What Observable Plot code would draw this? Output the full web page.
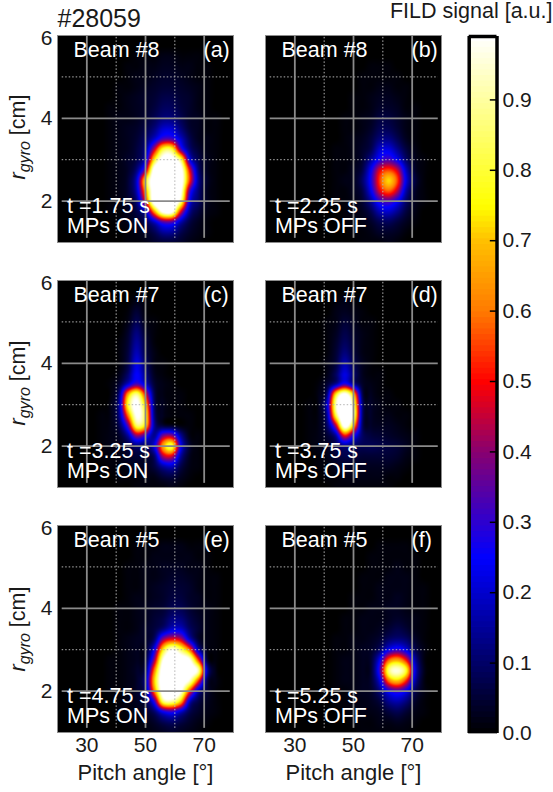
<!DOCTYPE html>
<html>
<head>
<meta charset="utf-8">
<script src="https://cdn.jsdelivr.net/npm/d3@7"></script>
<script src="https://cdn.jsdelivr.net/npm/@observablehq/plot@0.6"></script>
<style>
html,body{margin:0;padding:0;background:#fff}
#chart{position:relative;width:553px;height:792px;overflow:hidden}
#chart svg{position:absolute;left:0;top:0;background:transparent;overflow:visible}
</style>
</head>
<body>
<div id="chart"></div>
<script>
// Grid positions of the estimated FILD signal
const pitchCols = [35,38,41,44,47,50,53,56,59,62,65,68,71,74,77];
const rgyroRows = [5.5,5.25,5,4.75,4.5,4.25,4,3.75,3.5,3.25,3,2.75,2.5,2.25,2,1.75,1.5,1.25,1];

// Signal in percent, one row per rgyroRows entry (values above 100 saturate the colour map)
const panelA = [
[0,0,0,0,1,1,1,2,2,1,1,1,0,0,0],
[0,0,0,1,1,2,2,3,3,2,2,1,1,0,0],
[0,0,0,1,2,2,3,4,4,3,2,1,1,0,0],
[0,0,1,1,2,3,4,5,5,4,3,2,1,0,0],
[0,0,1,2,3,4,5,7,7,5,4,2,1,0,0],
[0,1,1,2,3,4,6,9,9,6,4,2,1,0,0],
[0,1,2,2,3,5,8,12,12,8,4,3,1,1,0],
[0,1,2,3,4,7,12,20,20,12,5,3,1,1,0],
[0,1,2,3,5,10,20,33,33,20,8,3,2,1,0],
[0,1,2,3,6,14,45,80,80,35,12,5,2,1,0],
[0,1,2,4,7,20,75,105,105,85,25,8,3,1,0],
[0,1,2,4,12,40,105,118,118,105,50,12,3,1,0],
[0,1,2,5,20,75,110,120,120,108,55,15,4,1,0],
[0,1,2,5,18,65,110,120,120,102,35,12,3,1,0],
[0,1,2,4,12,50,108,120,116,90,25,10,3,1,0],
[0,1,1,3,7,20,65,102,102,50,15,6,2,1,0],
[0,0,1,2,4,8,20,35,35,18,7,3,1,0,0],
[0,0,0,1,2,4,8,15,15,8,4,2,1,0,0],
[0,0,0,1,1,2,4,5,5,4,2,1,0,0,0]];
const panelB = [
[0,0,0,0,0,0,0,0,0,0,0,0,0,0,0],
[0,0,0,0,0,0,0,1,1,1,0,0,0,0,0],
[0,0,0,0,0,0,1,1,1,1,1,0,0,0,0],
[0,0,0,0,0,0,1,1,2,2,1,1,0,0,0],
[0,0,0,0,0,1,1,2,3,3,2,1,0,0,0],
[0,0,0,0,0,1,1,2,4,4,3,1,1,0,0],
[0,0,0,0,1,1,2,3,6,6,4,2,1,0,0],
[0,0,0,0,1,1,2,4,8,8,5,2,1,0,0],
[0,0,0,0,1,2,3,6,12,13,8,3,1,0,0],
[0,0,0,1,1,2,4,8,20,22,14,6,2,0,0],
[0,0,0,1,1,2,5,15,28,33,24,10,3,1,0],
[0,0,0,1,1,3,7,25,48,55,45,18,4,1,0],
[0,0,0,1,2,3,10,28,55,72,55,22,6,1,0],
[0,0,0,1,1,3,7,24,48,58,44,16,4,1,0],
[0,0,0,1,1,2,5,15,30,34,25,10,3,1,0],
[0,0,0,0,1,2,3,8,18,20,14,6,2,0,0],
[0,0,0,0,1,1,2,4,8,9,6,3,1,0,0],
[0,0,0,0,0,1,1,2,4,4,3,1,0,0,0],
[0,0,0,0,0,0,1,1,1,2,1,0,0,0,0]];
const panelC = [
[0,0,0,0,2,1,0,0,0,0,0,0,0,0,0],
[0,0,0,1,5,1,0,0,0,0,0,0,0,0,0],
[0,0,0,2,8,2,1,0,0,0,0,0,0,0,0],
[0,0,0,4,12,4,1,0,0,0,0,0,0,0,0],
[0,0,1,5,15,6,1,0,0,0,0,0,0,0,0],
[0,0,1,6,18,7,2,0,0,0,0,0,0,0,0],
[0,0,1,7,22,10,2,1,0,0,0,0,0,0,0],
[0,0,2,10,25,13,3,1,0,0,0,0,0,0,0],
[0,1,5,20,33,20,5,2,1,0,0,0,0,0,0],
[0,1,12,65,88,50,8,2,1,1,0,0,0,0,0],
[0,2,15,78,102,70,10,3,1,1,0,0,0,0,0],
[1,2,13,60,100,78,12,3,1,1,1,0,0,0,0],
[1,2,8,35,85,72,15,5,3,1,1,0,0,0,0],
[1,2,4,15,40,30,14,38,40,15,2,1,0,0,0],
[1,2,3,6,12,10,22,65,80,25,5,1,0,0,0],
[1,1,2,4,5,5,10,42,45,15,3,1,0,0,0],
[0,1,1,2,3,3,6,15,18,7,2,1,0,0,0],
[0,0,1,1,1,2,2,5,6,3,1,0,0,0,0],
[0,0,0,0,1,1,1,1,2,1,0,0,0,0,0]];
const panelD = [
[0,0,0,1,2,1,0,0,0,0,0,0,0,0,0],
[0,0,0,2,3,2,1,0,0,0,0,0,0,0,0],
[0,0,1,2,5,3,1,1,0,0,0,0,0,0,0],
[0,0,1,3,7,4,2,1,0,0,0,0,0,0,0],
[0,0,1,4,9,5,2,1,0,0,0,0,0,0,0],
[0,0,1,5,12,6,2,1,0,0,0,0,0,0,0],
[0,0,2,6,17,8,3,1,0,0,0,0,0,0,0],
[0,0,2,9,22,11,3,1,1,0,0,0,0,0,0],
[0,1,5,15,30,15,4,2,1,0,0,0,0,0,0],
[0,2,12,75,102,70,8,3,1,1,0,0,0,0,0],
[1,2,20,92,118,88,12,4,2,1,1,0,0,0,0],
[1,2,15,82,118,92,12,4,2,2,1,1,0,0,0],
[1,2,10,45,105,70,10,4,3,3,2,1,0,0,0],
[1,2,5,15,50,28,10,6,5,4,3,2,1,0,0],
[1,2,3,8,14,10,8,8,7,6,5,3,1,0,0],
[0,1,2,5,7,6,5,5,5,5,4,2,1,0,0],
[0,1,1,3,4,3,3,3,3,3,2,1,0,0,0],
[0,0,1,1,2,2,2,2,2,1,1,0,0,0,0],
[0,0,0,1,1,1,1,1,1,1,0,0,0,0,0]];
const panelE = [
[0,0,0,0,1,1,1,2,2,2,1,1,1,0,0],
[0,0,0,0,1,1,2,2,2,2,2,1,1,0,0],
[0,0,0,1,1,2,2,3,3,3,2,2,1,0,0],
[0,0,0,1,1,2,2,3,4,4,3,2,1,1,0],
[0,0,0,1,1,2,3,4,5,5,4,2,1,1,0],
[0,0,0,1,2,2,3,4,6,6,4,3,1,1,0],
[0,0,1,1,2,3,4,5,8,8,5,3,2,1,0],
[0,0,1,1,2,3,5,7,12,12,7,4,2,1,0],
[0,0,1,1,2,4,6,12,20,20,10,5,2,1,0],
[0,0,1,2,3,4,10,40,50,45,20,5,2,1,0],
[0,0,1,2,3,4,25,75,98,85,60,18,3,1,0],
[0,1,1,2,3,6,40,98,110,108,100,55,6,1,0],
[0,1,1,2,4,10,60,108,118,112,106,92,18,2,0],
[0,1,1,2,4,15,70,110,118,108,95,55,8,2,0],
[0,1,1,2,4,12,60,106,112,100,55,18,5,1,0],
[0,0,1,2,3,7,30,85,90,70,20,7,3,1,0],
[0,0,1,1,2,4,10,25,30,20,8,4,2,1,0],
[0,0,0,1,1,2,4,8,10,7,4,2,1,0,0],
[0,0,0,0,1,1,2,3,4,3,2,1,0,0,0]];
const panelF = [
[0,0,0,0,0,0,0,0,1,1,1,1,0,0,0],
[0,0,0,0,0,0,0,1,1,1,1,1,1,0,0],
[0,0,0,0,0,0,0,1,1,1,2,1,1,0,0],
[0,0,0,0,0,0,1,1,1,2,2,2,1,0,0],
[0,0,0,0,0,0,1,1,2,2,2,2,1,1,0],
[0,0,0,0,0,1,1,1,2,2,3,2,1,1,0],
[0,0,0,0,0,1,1,2,2,3,3,2,1,1,0],
[0,0,0,0,1,1,2,2,2,3,4,3,2,1,0],
[0,0,0,0,1,1,2,2,3,5,7,5,2,1,0],
[0,0,0,1,1,2,2,3,5,10,12,10,4,1,0],
[0,0,0,1,1,2,3,4,10,24,30,22,8,2,0],
[0,0,0,1,2,2,3,5,24,58,66,50,16,2,0],
[0,0,0,1,2,2,3,5,32,85,96,78,22,3,0],
[0,0,0,1,2,2,3,5,22,60,70,52,16,2,0],
[0,0,0,1,1,2,3,4,12,26,32,24,8,2,0],
[0,0,0,1,1,2,2,3,6,14,17,12,4,1,0],
[0,0,0,0,1,1,2,2,3,6,8,5,2,1,0],
[0,0,0,0,0,1,1,1,2,2,3,2,1,0,0],
[0,0,0,0,0,0,1,1,1,1,1,1,0,0,0]];

// Panel annotations
const panelKeys   = ["a","b","c","d","e","f"];
const panelGrids  = [panelA,panelB,panelC,panelD,panelE,panelF];
const panelCols   = ["left","right","left","right","left","right"];
const panelRows   = ["top","top","middle","middle","bottom","bottom"];
const beamLabels  = ["Beam #8","Beam #8","Beam #7","Beam #7","Beam #5","Beam #5"];
const timeLabels  = ["t =1.75 s","t =2.25 s","t =3.25 s","t =3.75 s","t =4.75 s","t =5.25 s"];
const stateLabels = ["MPs ON","MPs OFF","MPs ON","MPs OFF","MPs ON","MPs OFF"];

// Colour map
const colorStops  = [0,0.25,0.4,0.5,0.6,0.7,0.75,0.99];
const colorValues = ["#000000","#0000ff","#880070","#ff0000","#ff7a00","#ffc000","#ffff00","#ffffff"];
const barTicks = [0.1,0.2,0.3,0.4,0.5,0.6,0.7,0.8,0.9];
const barLabels = [0,0.1,0.2,0.3,0.4,0.5,0.6,0.7,0.8,0.9];
const FONT = "'Liberation Sans', Arial, sans-serif";
const INK = "#1a1a1a";

const cells = panelGrids.flatMap((grid,p) =>
  grid.flatMap((row,j) => row.map((v,i) => ({
    fx: panelCols[p], fy: panelRows[p],
    x: pitchCols[i], y: rgyroRows[j], v: v/100
  }))));
const panels = panelKeys.map((k,p) => ({
  fx: panelCols[p], fy: panelRows[p], tag:`(${k})`,
  beam: beamLabels[p], time: timeLabels[p], state: stateLabels[p]
}));

// Catmull-Rom resampling of the regular grid into raster pixels
function gridInterpolate(index, w, h, X, Y, V) {
  const nx = pitchCols.length, ny = rgyroRows.length;
  const x0 = X[index[0]], sx = (X[index[nx-1]]-x0)/(nx-1);
  const y0 = Y[index[0]], sy = (Y[index[nx*(ny-1)]]-y0)/(ny-1);
  const at = (i,j) => (i<0||j<0||i>=nx||j>=ny) ? 0 : V[index[j*nx+i]];
  const wt = (t) => [(-t+2*t*t-t*t*t)/2,(2-5*t*t+3*t*t*t)/2,(t+4*t*t-3*t*t*t)/2,(-t*t+t*t*t)/2];
  const out = new Float64Array(w*h);
  for (let py=0; py<h; ++py) {
    const gy=(py+.5-y0)/sy, j0=Math.floor(gy), wy=wt(gy-j0);
    for (let px=0; px<w; ++px) {
      const gx=(px+.5-x0)/sx, i0=Math.floor(gx), wx=wt(gx-i0);
      let s=0;
      for (let b=0;b<4;++b) for (let a=0;a<4;++a) s+=wx[a]*wy[b]*at(i0+a-1,j0+b-1);
      out[py*w+px]=Math.max(0,s);
    }
  }
  return out;
}

const colorScale = {type:"linear",domain:colorStops,range:colorValues,clamp:true};
const gridStyle = {stroke:"#8a8a8a",strokeWidth:1.8};
const dotStyle  = {stroke:"#b4b4b4",strokeWidth:1,strokeDasharray:"1.5,2"};
const white = {fill:"#fff",fontSize:21.5,textAnchor:"start",lineAnchor:"middle",fx:"fx",fy:"fy"};
const lastRow = panels.filter(d=>d.fy==="bottom");

const main = Plot.plot({
  width:553,height:792,marginLeft:57,marginRight:111,marginTop:34,marginBottom:59,
  style:{fontFamily:FONT,color:INK,background:"transparent"},
  x:{domain:[20,80],axis:null},
  y:{domain:[1,6],axis:null},
  fx:{domain:["left","right"],paddingInner:0.153,paddingOuter:0,axis:null,label:null},
  fy:{domain:["top","middle","bottom"],paddingInner:0.155,paddingOuter:0,axis:null,label:null},
  color:colorScale,
  marks:[
    Plot.frame({fill:"black"}),
    Plot.raster(cells,{x:"x",y:"y",fill:"v",fx:"fx",fy:"fy",pixelSize:1,interpolate:gridInterpolate}),
    Plot.ruleY([3,5],{x1:21.6,x2:78.9,...dotStyle}),
    Plot.ruleX([40,60],{y1:1.1,y2:6,...dotStyle}),
    Plot.ruleY([2,4],{x1:21.6,x2:78.9,...gridStyle}),
    Plot.ruleX([30,50,70],{y1:1.1,y2:6,...gridStyle}),
    Plot.frame({stroke:"#8c8c8c",strokeWidth:1}),
    Plot.text(panels,{...white,text:"beam",frameAnchor:"top-left",dx:16,dy:15}),
    Plot.text(panels,{...white,text:"tag",frameAnchor:"top-right",dx:-30,dy:15}),
    Plot.text(panels,{...white,text:"time",frameAnchor:"bottom-left",dx:9.5,dy:-36}),
    Plot.text(panels,{...white,text:"state",frameAnchor:"bottom-left",dx:9.5,dy:-16}),
    Plot.text(lastRow,{fx:"fx",fy:"fy",text:()=>"Pitch angle [°]",frameAnchor:"bottom",lineAnchor:"middle",dy:40,fontSize:22,fill:INK}),
    Plot.text(panels.slice(0,1),{fx:"fx",fy:"fy",text:()=>"#28059",frameAnchor:"top-left",lineAnchor:"middle",dy:-17,fontSize:25,fill:INK,textAnchor:"start"}),
    Plot.axisX({ticks:[30,50,70],tickSize:0,tickPadding:5,fontSize:21,tickFormat:"d",label:null,anchor:"bottom",color:INK}),
    Plot.axisY({ticks:[2,4],tickSize:0,tickPadding:5,fontSize:21,tickFormat:"d",label:null,anchor:"left",color:INK}),
    Plot.axisY({ticks:[6],tickSize:0,tickPadding:5,fontSize:21,tickFormat:"d",label:null,anchor:"left",dy:3,color:INK})
  ]
});

const bar = Plot.plot({
  width:553,height:792,marginLeft:468.7,marginRight:56.5,marginTop:36,marginBottom:59,
  style:{fontFamily:FONT,color:INK,background:"transparent"},
  x:{domain:[0,1],axis:null},
  y:{domain:[0,0.9929],range:[733,34],axis:null},
  color:colorScale,
  marks:[
    Plot.ruleY(d3.range(0.004,0.992,0.008),{stroke:d=>d,strokeWidth:6.5}),
    Plot.ruleY([0],{stroke:"#a0a0a0",strokeWidth:1}),
    Plot.ruleY(barTicks,{x1:0.76,x2:1,stroke:"black",strokeWidth:1.5}),
    Plot.ruleX([0,1],{stroke:"black",strokeWidth:3.5}),
    Plot.ruleY([0.9929],{stroke:"black",strokeWidth:3.5,dy:2}),
    Plot.axisY({anchor:"right",ticks:barLabels,tickFormat:".1f",tickSize:0,tickPadding:5.5,fontSize:21,label:null,color:INK}),
    Plot.text(["FILD signal [a.u.]"],{frameAnchor:"top-right",lineAnchor:"middle",dx:55.5,dy:-25,fontSize:21.5,fill:INK,textAnchor:"end"})
  ]
});

const host = document.getElementById("chart");
host.append(main,bar);

// Rotated y labels with italic, subscripted r_gyro
const svg = d3.select(main);
for (const cy of [137,383,629]) {
  const t = svg.append("text")
    .attr("transform",`translate(25,${cy}) rotate(-90)`)
    .attr("text-anchor","middle").attr("font-size",21.5).attr("fill",INK).attr("font-family",FONT);
  t.append("tspan").attr("font-style","italic").text("r");
  t.append("tspan").attr("font-style","italic").attr("font-size",16).attr("dy",5).text("gyro");
  t.append("tspan").attr("dy",-5).text(" [cm]");
}
</script>
</body>
</html>
